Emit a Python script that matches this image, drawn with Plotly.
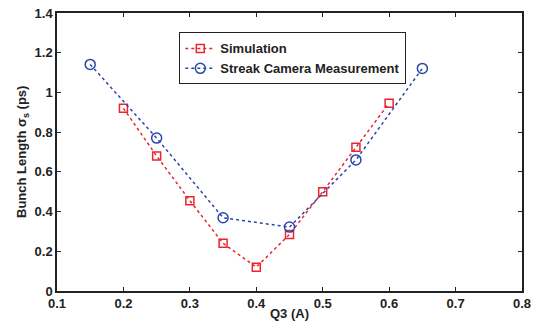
import plotly.graph_objects as go

sim_x = [0.2, 0.25, 0.3, 0.35, 0.4, 0.45, 0.5, 0.55, 0.6]
sim_y = [0.92, 0.68, 0.455, 0.24, 0.12, 0.285, 0.50, 0.724, 0.946]
meas_x = [0.15, 0.25, 0.35, 0.45, 0.55, 0.65]
meas_y = [1.141, 0.77, 0.369, 0.322, 0.66, 1.121]

x_ticks = [0.1, 0.2, 0.3, 0.4, 0.5, 0.6, 0.7, 0.8]
x_labels = ["0.1", "0.2", "0.3", "0.4", "0.5", "0.6", "0.7", "0.8"]
y_ticks = [0, 0.2, 0.4, 0.6, 0.8, 1.0, 1.2, 1.4]
y_labels = ["0", "0.2", "0.4", "0.6", "0.8", "1", "1.2", "1.4"]

red = "#e8262e"
blue = "#2b46a8"
FAM = "Liberation Sans, Arial, sans-serif"
TXT = "#222222"

fig = go.Figure()
fig.add_trace(go.Scatter(
    x=sim_x, y=sim_y, name="Simulation", mode="lines+markers",
    line=dict(color=red, dash="dot", width=1.5),
    marker=dict(symbol="square-open", size=8, color=red, line=dict(width=1.5)),
))
fig.add_trace(go.Scatter(
    x=meas_x, y=meas_y, name="Streak Camera Measurement", mode="lines+markers",
    line=dict(color=blue, dash="dot", width=1.5),
    marker=dict(symbol="circle-open", size=10, color=blue, line=dict(width=1.5)),
))

bold = dict(family=FAM, size=13, color=TXT, weight="bold")
fig.update_layout(
    width=543, height=321,
    margin=dict(l=57, r=21, t=13, b=30),
    paper_bgcolor="white", plot_bgcolor="white",
    font=dict(family=FAM, size=13, color=TXT),
    showlegend=True,
    legend=dict(
        x=0.263, y=0.93, xanchor="left", yanchor="top",
        bordercolor=TXT, borderwidth=1, bgcolor="white",
        font=bold, tracegroupgap=0, itemwidth=30,
    ),
    annotations=[dict(
        text="Bunch Length σ<sub>s</sub> (ps)", xref="paper", yref="paper",
        x=0, y=0.5, xanchor="center", yanchor="middle", xshift=-35,
        textangle=-90, showarrow=False, font=bold,
    )],
)
fig.update_xaxes(
    range=[0.1, 0.8], tickvals=x_ticks, ticktext=x_labels,
    showgrid=False, zeroline=False, showline=True, linecolor=TXT, linewidth=1.5,
    mirror="ticks", ticks="inside", ticklen=4, tickcolor=TXT,
    tickfont=bold, automargin=False,
    title=dict(text="Q3 (A)", font=bold),
)
fig.update_yaxes(
    range=[0, 1.4], tickvals=y_ticks, ticktext=y_labels,
    showgrid=False, zeroline=False, showline=True, linecolor=TXT, linewidth=1.5,
    mirror="ticks", ticks="inside", ticklen=4, tickcolor=TXT,
    tickfont=bold, automargin=False,
)

fig.write_html("out.html")
